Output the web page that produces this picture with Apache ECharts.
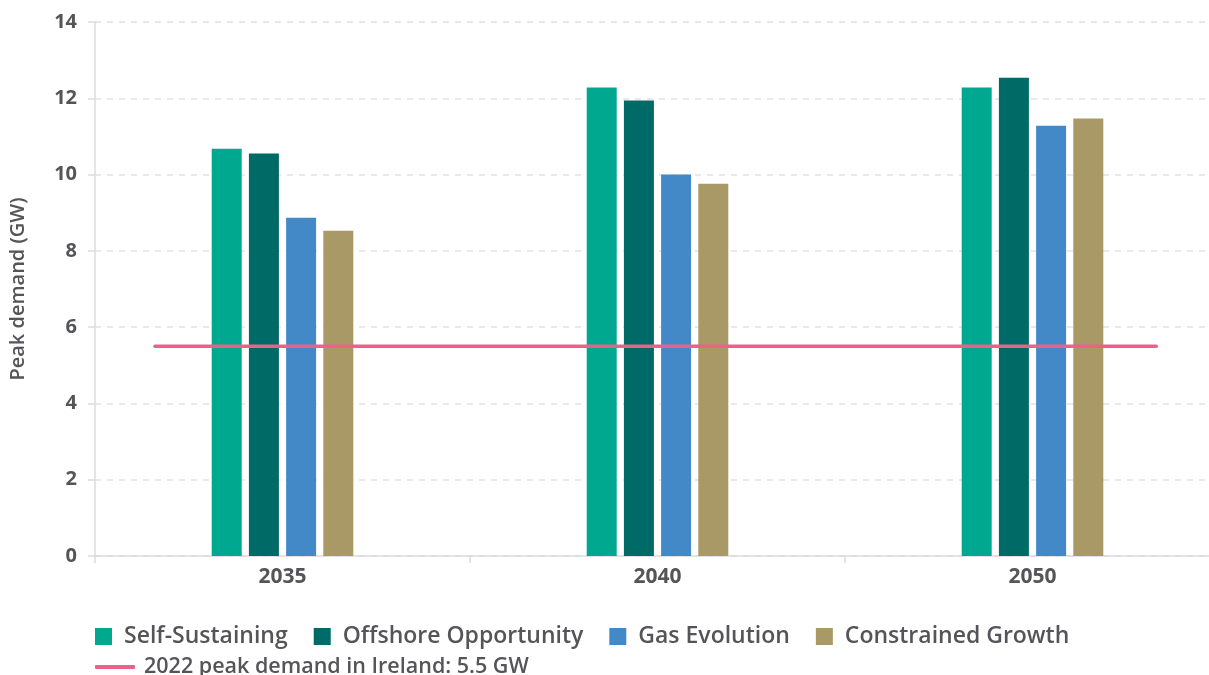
<!DOCTYPE html>
<html>
<head>
<meta charset="utf-8">
<script src="https://cdn.jsdelivr.net/npm/echarts@6/dist/echarts.min.js"></script>
<style>
  html, body { margin: 0; padding: 0; background: #fff; }
  #chart { width: 1209px; height: 675px; }
</style>
</head>
<body>
<div id="chart"></div>
<script>
// Peak demand per scenario (GW)
var years = ['2035', '2040', '2050'];
var selfSustaining = [10.68, 12.28, 12.28];
var offshoreOpportunity = [10.55, 11.94, 12.54];
var gasEvolution = [8.87, 10.0, 11.28];
var constrainedGrowth = [8.53, 9.76, 11.47];
var yTicks = [0, 2, 4, 6, 8, 10, 12, 14];

// 2022 reference line: start/end as fraction of category span, level in GW
var peakLineX = [0.16, 2.83];
var peak2022 = 5.5;

var textColor = '#555559';
var font = 'Open Sans';

var chart = echarts.init(document.getElementById('chart'));

function barSeries(name, values, color) {
    return {
        name: name,
        type: 'bar',
        data: values,
        barWidth: 30,
        barGap: '24%',
        itemStyle: { color: color },
        xAxisIndex: 0
    };
}

var option = {
    animation: false,
    textStyle: { fontFamily: font },
    grid: { left: 95, top: 22, width: 1125, bottom: 119, outerBoundsMode: 'none' },
    legend: [
        {   // scenario legend (first row)
            data: ['Self-Sustaining', 'Offshore Opportunity', 'Gas Evolution', 'Constrained Growth'],
            left: 90, top: 620,
            icon: 'rect',
            itemWidth: 17, itemHeight: 17,
            itemGap: 26,
            textStyle: { color: textColor, fontSize: 23, fontWeight: 600, fontFamily: font, padding: [0, 0, 0, 7] }
        },
        {   // reference line legend (second row)
            data: [{ name: '2022 peak demand in Ireland: 5.5 GW', icon: 'roundRect' }],
            left: 90, top: 651,
            itemWidth: 40, itemHeight: 4,
            textStyle: { color: textColor, fontSize: 21.5, fontWeight: 600, fontFamily: font, padding: [0, 0, 0, 4] }
        }
    ],
    xAxis: [
        {
            type: 'category',
            data: years,
            axisLine: { lineStyle: { color: '#dcdce0', width: 1.5 } },
            axisTick: { show: true, length: 7, lineStyle: { color: '#dcdce0', width: 1.5 } },
            axisLabel: { color: textColor, fontSize: 21, fontWeight: 'bold', margin: 11 }
        },
        {   // hidden value axis for the reference line
            type: 'value',
            min: 0, max: 3,
            show: false
        }
    ],
    yAxis: {
        type: 'value',
        min: yTicks[0], max: yTicks[yTicks.length - 1], interval: 2,
        name: 'Peak demand (GW)',
        nameLocation: 'middle',
        nameGap: 67,
        nameTextStyle: { color: textColor, fontSize: 20, fontWeight: 600 },
        axisLine: { show: true, lineStyle: { color: '#dcdce0', width: 1.5 } },
        axisTick: { show: true, length: 7, lineStyle: { color: '#dcdce0', width: 1.5 } },
        axisLabel: { color: textColor, fontSize: 20, fontWeight: 'bold', margin: 18 },
        splitLine: { lineStyle: { color: '#e2e2e6', type: [6, 6], width: 1.5 } }
    },
    series: [
        barSeries('Self-Sustaining', selfSustaining, '#00a88f'),
        barSeries('Offshore Opportunity', offshoreOpportunity, '#006a67'),
        barSeries('Gas Evolution', gasEvolution, '#4389c8'),
        barSeries('Constrained Growth', constrainedGrowth, '#a89966'),
        {
            name: '2022 peak demand in Ireland: 5.5 GW',
            type: 'line',
            xAxisIndex: 1,
            data: peakLineX.map(function (x) { return [x, peak2022]; }),
            symbol: 'none',
            lineStyle: { color: '#e9628a', width: 3.5, cap: 'round' },
            itemStyle: { color: '#e9628a' },
            z: 5
        }
    ]
};

chart.setOption(option);
</script>
</body>
</html>
